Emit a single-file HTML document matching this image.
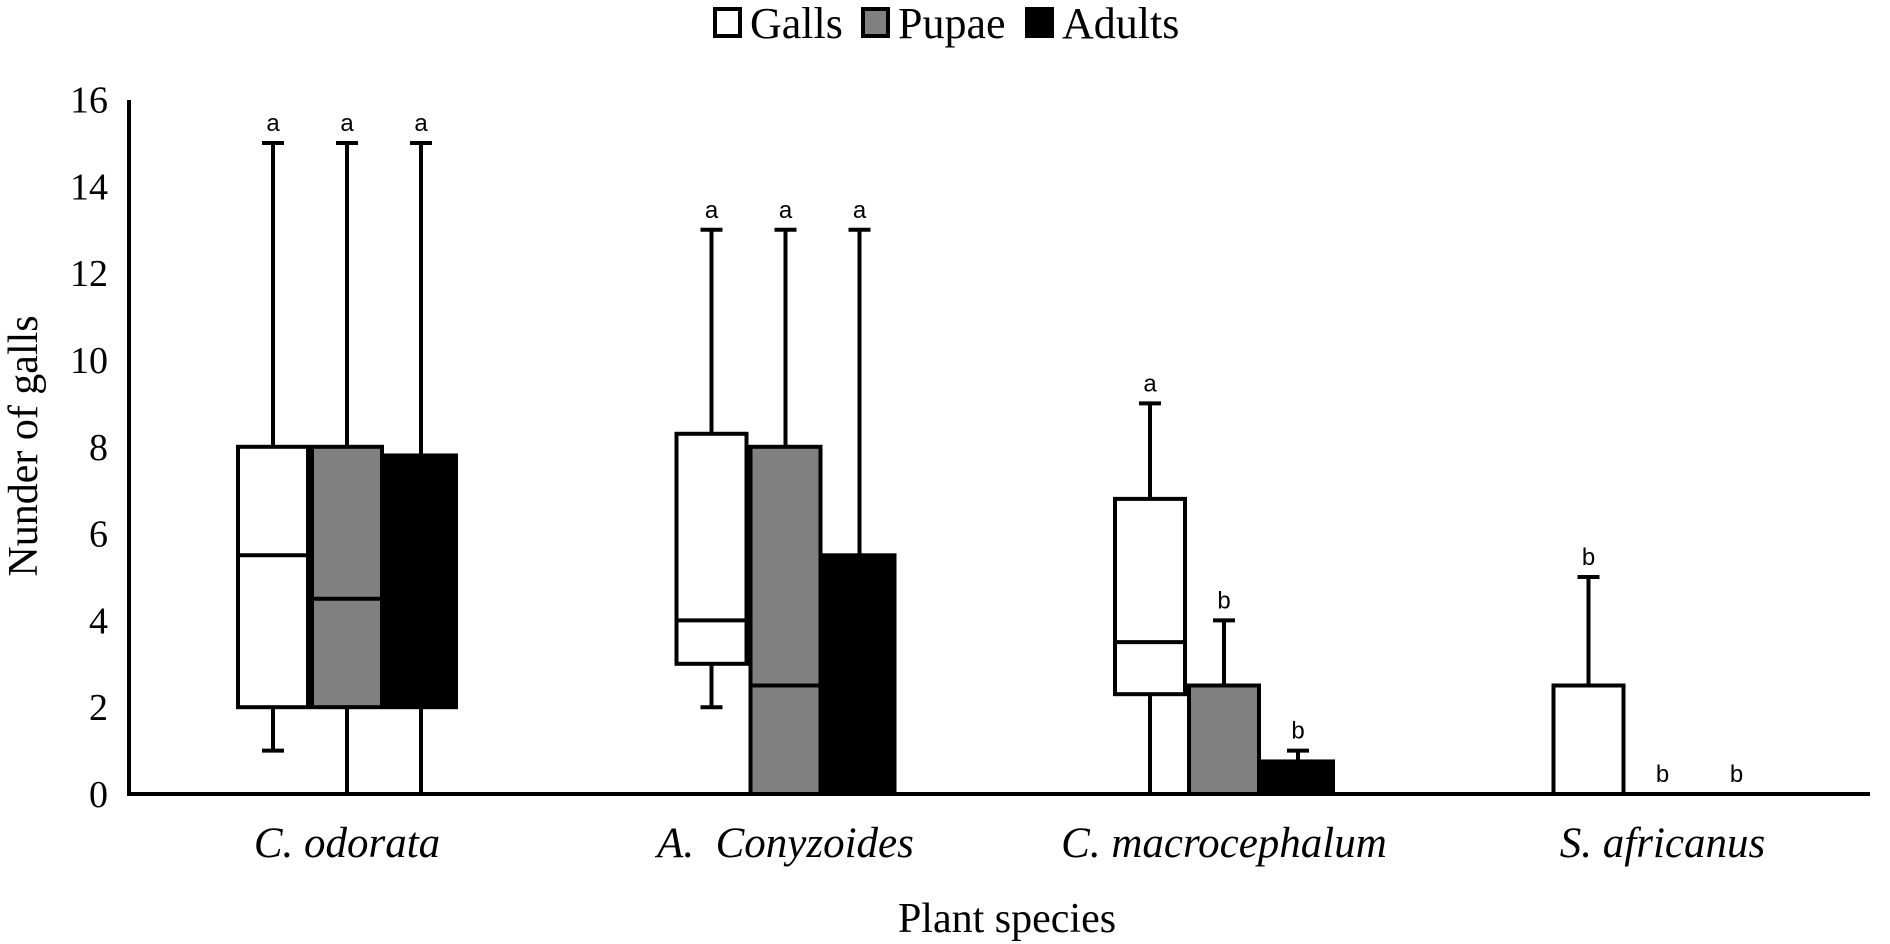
<!DOCTYPE html>
<html><head><meta charset="utf-8"><style>
body{margin:0;background:#fff;}
svg{display:block;}
</style></head><body>
<svg id="chart" width="1890" height="944" viewBox="0 0 1890 944" xmlns="http://www.w3.org/2000/svg">
<g id="legend">
 <g><rect x="715" y="9" width="25" height="27" fill="#fff" stroke="#000" stroke-width="4"/><text x="750" y="38" font-family="Liberation Serif, serif" font-size="44">Galls</text></g>
 <g><rect x="863" y="9" width="25" height="27" fill="#808080" stroke="#000" stroke-width="4"/><text x="898" y="38" font-family="Liberation Serif, serif" font-size="44">Pupae</text></g>
 <g><rect x="1027" y="9" width="25" height="27" fill="#000" stroke="#000" stroke-width="4"/><text x="1062" y="38" font-family="Liberation Serif, serif" font-size="44">Adults</text></g>
</g>
<text x="0" y="0" transform="translate(37,446) rotate(-90)" text-anchor="middle" font-family="Liberation Serif, serif" font-size="42">Nunder of galls</text>
<text x="1007" y="932" text-anchor="middle" font-family="Liberation Serif, serif" font-size="42">Plant species</text>
<g id="yticks"></g>
<g id="boxes"></g>
<g id="xlabels"></g>
<line x1="129" y1="100" x2="129" y2="796" stroke="#000" stroke-width="4"/>
<line x1="127" y1="794" x2="1870" y2="794" stroke="#000" stroke-width="4"/>
</svg>
<script>
const categories = ["C. odorata", "A.  Conyzoides", "C. macrocephalum", "S. africanus"];
const seriesNames = ["Galls", "Pupae", "Adults"];
const seriesFill = ["#ffffff", "#808080", "#000000"];
// [min, q1, median, q3, max] per category
const galls = [[1,2,5.5,8,15],[2,3,4,8.3,13],[0,2.3,3.5,6.8,9],[0,0,0,2.5,5]];
const pupae = [[0,2,4.5,8,15],[0,0,2.5,8,13],[0,0,2.5,2.5,4],[0,0,0,0,0]];
const adults = [[0,2,5,7.8,15],[0,0,0,5.5,13],[0,0,0.5,0.75,1],[0,0,0,0,0]];
const letters = [["a","a","a"],["a","a","a"],["a","b","b"],["b","b","b"]];
const yTicks = [0,2,4,6,8,10,12,14,16];

const NS = "http://www.w3.org/2000/svg";
const y0 = 794, unit = 43.4;
function yScale(v){ return y0 - v*unit; }
const groupStart = 347, groupStep = 438.5, seriesOff = 74, boxW = 70;
function xCenter(ci, si){ return groupStart + ci*groupStep + (si-1)*seriesOff; }
function mk(tag, attrs, parent){ const e=document.createElementNS(NS,tag); for(const k in attrs) e.setAttribute(k,attrs[k]); parent.appendChild(e); return e; }

const yt = document.getElementById('yticks');
yTicks.forEach(v=>{
  const t = mk('text',{x:108,y:yScale(v)+13,'text-anchor':'end','font-family':'Liberation Serif, serif','font-size':38},yt);
  
  
  t.textContent = v;
});

const bx = document.getElementById('boxes');
const all = [galls, pupae, adults];
all.forEach((series, si)=>{
  series.forEach((d, ci)=>{
    const cx = xCenter(ci, si);
    const g = mk('g',{},bx);
    
    
    const [mn,q1,md,q3,mx] = d;
    const sw = 4;
    if (mx > q3) {
      mk('line',{x1:cx,y1:yScale(q3),x2:cx,y2:yScale(mx),stroke:'#000','stroke-width':sw},g);
      mk('line',{x1:cx-11,y1:yScale(mx),x2:cx+11,y2:yScale(mx),stroke:'#000','stroke-width':sw},g);
    }
    if (q1 > mn) {
      mk('line',{x1:cx,y1:yScale(q1),x2:cx,y2:yScale(mn),stroke:'#000','stroke-width':sw},g);
      if (mn > 0) mk('line',{x1:cx-11,y1:yScale(mn),x2:cx+11,y2:yScale(mn),stroke:'#000','stroke-width':sw},g);
    }
    if (q3 > q1) {
      mk('rect',{x:cx-boxW/2,y:yScale(q3),width:boxW,height:yScale(q1)-yScale(q3),fill:seriesFill[si],stroke:'#000','stroke-width':sw},g);
      if (md > q1 && md < q3) mk('line',{x1:cx-boxW/2,y1:yScale(md),x2:cx+boxW/2,y2:yScale(md),stroke:'#000','stroke-width':sw},g);
    }
    const t = mk('text',{x:cx,y:yScale(mx)-12,'text-anchor':'middle','font-family':'Liberation Sans, sans-serif','font-size':24},g);
    
    
    t.textContent = letters[ci][si];
  });
});

const xl = document.getElementById('xlabels');
categories.forEach((c, ci)=>{
  const t = mk('text',{x:xCenter(ci,1),y:857,'text-anchor':'middle','font-family':'Liberation Serif, serif','font-size':43,'font-style':'italic'},xl);
  
  
  t.style.whiteSpace = 'pre';
  t.textContent = c;
});
</script>
</body></html>
